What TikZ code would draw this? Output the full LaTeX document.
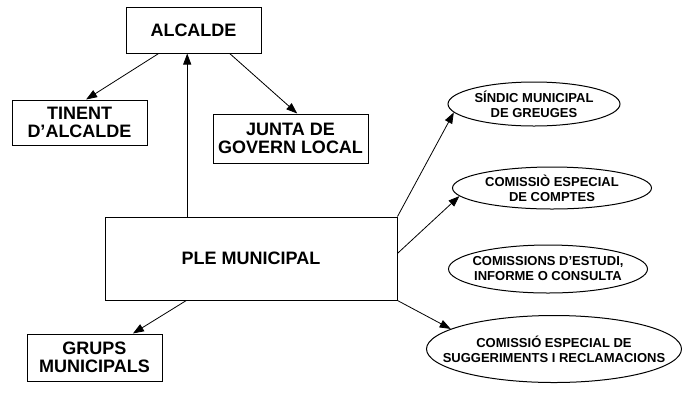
\documentclass[tikz,border=0pt]{standalone}
\usepackage{fontspec}
\setmainfont{Liberation Sans}
\usetikzlibrary{shapes.geometric, arrows.meta}

\begin{document}
\begin{tikzpicture}[x=1pt, y=-1pt,
    caixa/.style={draw, line width=1pt, rectangle, inner sep=0pt, align=center,
        font=\bfseries\fontsize{18}{18}\selectfont},
    comissio/.style={draw, line width=1pt, ellipse, inner xsep=-40pt, inner ysep=-12pt,
        align=center, font=\bfseries\fontsize{13}{15}\selectfont},
    fletxa/.style={line width=0.8pt, -{Triangle[length=11pt, width=8pt]}}]
    \useasboundingbox (0,0) rectangle (682,392);
    % organs
    \node[caixa, minimum width=135, minimum height=46] (alcalde) at (193.5,30) {ALCALDE};
    \node[caixa, minimum width=135, minimum height=45] (tinent) at (79.5,122.5) {TINENT\\D'ALCALDE};
    \node[caixa, minimum width=155, minimum height=49] (junta) at (290.5,138.5) {JUNTA DE\\GOVERN LOCAL};
    \node[caixa, minimum width=292, minimum height=83] (ple) at (251,258.5) {PLE MUNICIPAL};
    \node[caixa, minimum width=135, minimum height=47] (grups) at (94.5,357.5) {GRUPS\\MUNICIPALS};
    % comissions
    \node[comissio, minimum width=172, minimum height=44] (sindic) at (534,104) {SÍNDIC MUNICIPAL\\DE GREUGES};
    \node[comissio, minimum width=199, minimum height=42] (comptes) at (552,188) {COMISSIÒ ESPECIAL\\DE COMPTES};
    \node[comissio, minimum width=199, minimum height=48] (estudi) at (548,269) {COMISSIONS D'ESTUDI,\\INFORME O CONSULTA};
    \node[comissio, minimum width=255, minimum height=67] (suggeriments) at (554,349) {COMISSIÓ ESPECIAL DE\\SUGGERIMENTS I RECLAMACIONS};
    % fletxes
    \draw[fletxa] (alcalde.-146.3) -- (tinent.74.5);
    \draw[fletxa] (alcalde.-33.7) -- (junta.75.7);
    \draw[fletxa] (ple.north -| alcalde.-105.8) -- (alcalde.-105.8);
    \draw[fletxa] (ple.-147.8) -- (grups.32.8);
    \draw[fletxa] (ple.north east) -- (sindic.-174.3);
    \draw[fletxa] (ple.2.2) -- (comptes.-175.9);
    \draw[fletxa] (ple.south east) -- (suggeriments.169.6);
\end{tikzpicture}
\end{document}
